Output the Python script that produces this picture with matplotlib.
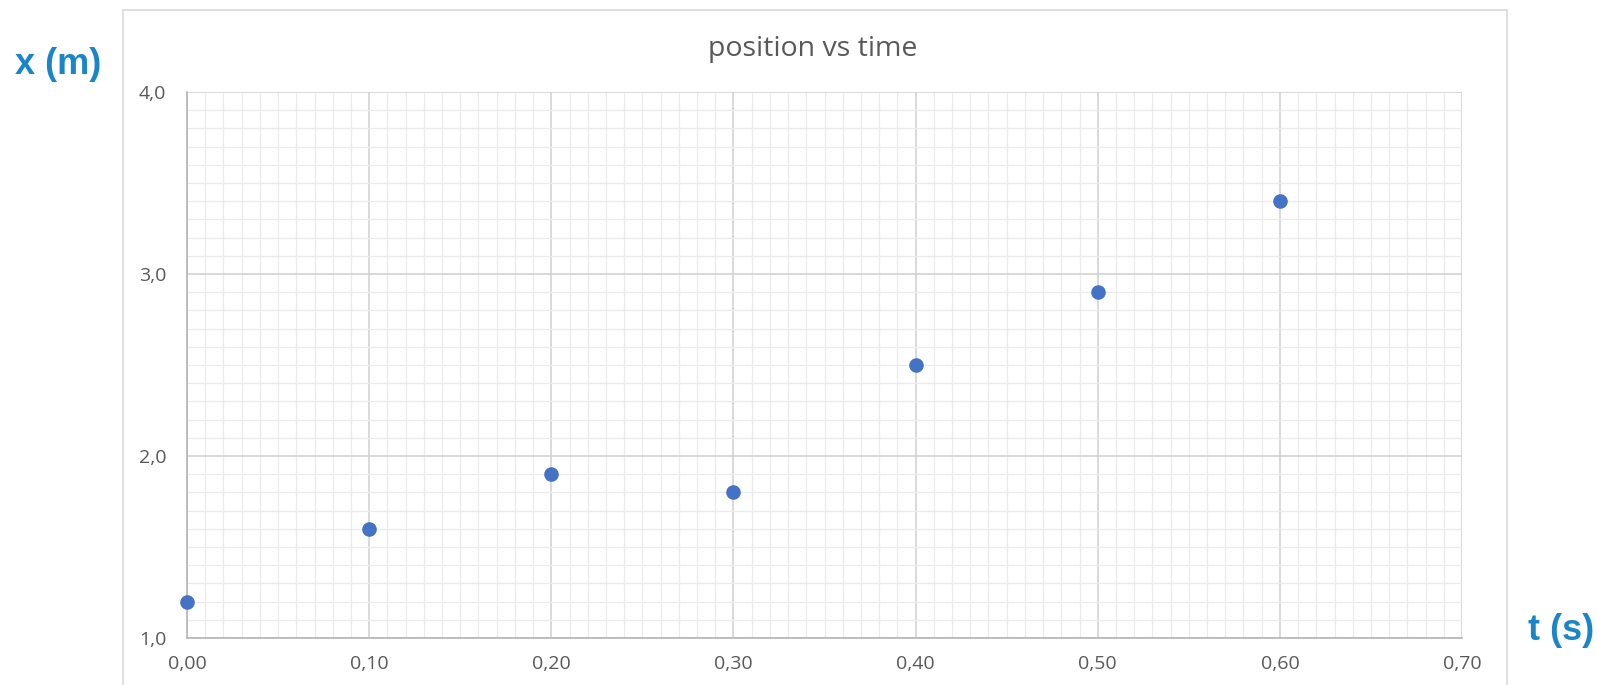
import matplotlib.pyplot as plt
from matplotlib.patches import Rectangle
from matplotlib.ticker import MultipleLocator, FuncFormatter

# measured points (t in s, x in m)
times = [0.0, 0.1, 0.2, 0.3, 0.4, 0.5, 0.6]
positions = [1.2, 1.6, 1.9, 1.8, 2.5, 2.9, 3.4]

title = 'position vs time'
x_label = 't (s)'
y_label = 'x (m)'

plt.rcParams['font.family'] = ['Open Sans', 'DejaVu Sans']

fig = plt.figure(figsize=(15.97, 6.85), dpi=100)
ax = fig.add_axes([0.1171, 0.0686, 0.7984, 0.7971])

# chart frame like the spreadsheet chart border
fig.patches.append(Rectangle((123 / 1597, -0.01), (1507 - 123) / 1597, (675 + 0.01 * 685) / 685,
                             transform=fig.transFigure, fill=False,
                             edgecolor='#d9d9d9', linewidth=1.2))

ax.scatter(times, positions, s=90, color='#4472c4', zorder=5, clip_on=False)

ax.set_xlim(0, 0.7)
ax.set_ylim(1.0, 4.0)
ax.xaxis.set_major_locator(MultipleLocator(0.1))
ax.xaxis.set_minor_locator(MultipleLocator(0.01))
ax.yaxis.set_major_locator(MultipleLocator(1.0))
ax.yaxis.set_minor_locator(MultipleLocator(0.1))
ax.xaxis.set_major_formatter(FuncFormatter(lambda v, p: f'{v:.2f}'.replace('.', ',')))
ax.yaxis.set_major_formatter(FuncFormatter(lambda v, p: f'{v:.1f}'.replace('.', ',')))

ax.grid(which='major', color='#cfcfcf', linewidth=1.1)
ax.grid(which='minor', color='#ebebeb', linewidth=0.9)
ax.set_axisbelow(True)
ax.tick_params(which='both', length=0)
ax.tick_params(axis='x', pad=12, labelsize=14, labelcolor='#595959')
ax.tick_params(axis='y', pad=15, labelsize=14, labelcolor='#595959')

for side in ['top', 'right']:
    ax.spines[side].set_visible(False)
for side in ['left', 'bottom']:
    ax.spines[side].set_color('#b5b5b5')
    ax.spines[side].set_linewidth(1.2)

fig.text(813 / 1597, 1 - 49 / 685, title, ha='center', va='center',
         fontsize=20.5, color='#595959')
fig.text(58 / 1597, 1 - 64 / 685, y_label, ha='center', va='center',
         fontsize=26, fontweight='bold', color='#1a86c8', family='Liberation Sans')
fig.text(1561 / 1597, 1 - 630 / 685, x_label, ha='center', va='center',
         fontsize=26, fontweight='bold', color='#1a86c8', family='Liberation Sans')

fig.savefig('out.png', dpi=100, facecolor='white')
